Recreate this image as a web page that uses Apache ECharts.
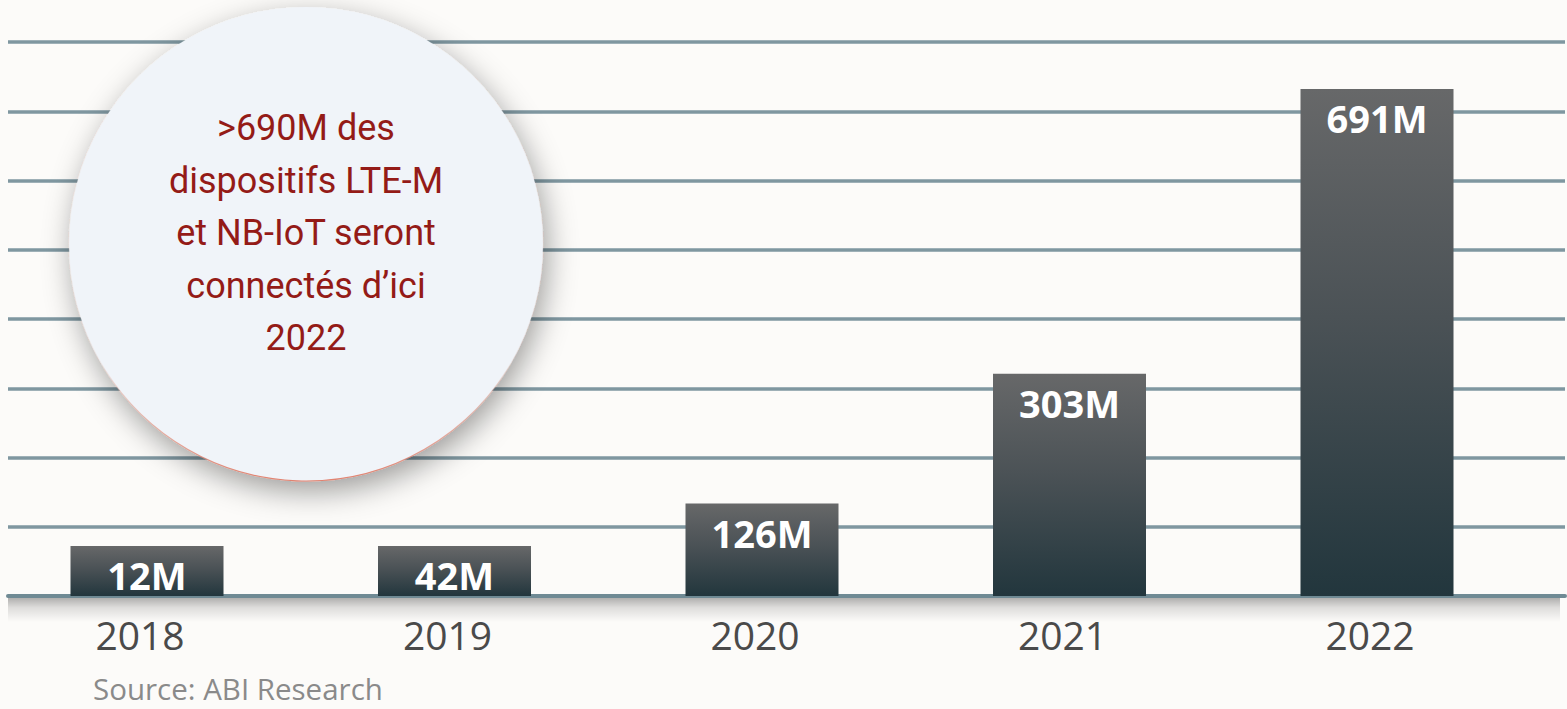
<!DOCTYPE html>
<html>
<head>
<meta charset="utf-8">
<script src="https://cdn.jsdelivr.net/npm/echarts@6/dist/echarts.min.js"></script>
<style>
html,body{margin:0;padding:0;background:#fcfbf9;}
#chart{width:1567px;height:709px;}
</style>
</head>
<body>
<div id="chart"></div>
<script>
// Data
const years = ['2018', '2019', '2020', '2021', '2022'];
const devices = [12, 42, 126, 303, 691]; // millions
const valueLabels = ['12M', '42M', '126M', '303M', '691M'];
const calloutLines = ['>690M des', 'dispositifs LTE-M', 'et NB-IoT seront', 'connectés d’ici', '2022'];
const sourceText = 'Source: ABI Research';

const axisMax = 755;
const axisInterval = axisMax / 8;

const chart = echarts.init(document.getElementById('chart'), null, {renderer: 'svg'});

const barGradient = new echarts.graphic.LinearGradient(0, 0, 0, 1, [
  {offset: 0, color: '#676869'},
  {offset: 0.45, color: '#4b5256'},
  {offset: 1, color: '#22363d'}
]);

chart.setOption({
  backgroundColor: '#fcfbf9',
  animation: false,
  title: {
    text: sourceText,
    left: 93,
    top: 673,
    padding: 0,
    textStyle: {fontFamily: 'Open Sans', fontSize: 29.5, fontWeight: 'normal', color: '#8a8a8a'}
  },
  grid: [
    {left: 147, right: 190, top: 42, bottom: 113},
    {left: 8, right: 2, top: 42, bottom: 113}
  ],
  xAxis: [
    {
      type: 'category', gridIndex: 0, data: years, boundaryGap: false,
      axisLine: {show: false}, axisTick: {show: false},
      axisLabel: {
        fontFamily: 'Open Sans', fontSize: 39, color: '#4a4a4a', margin: 19,
        padding: [0, 14, 0, 0]
      }
    },
    {
      type: 'category', gridIndex: 1, data: years,
      axisTick: {show: false}, axisLabel: {show: false},
      axisLine: {
        show: true,
        lineStyle: {color: '#6f8a94', width: 4}
      }
    }
  ],
  yAxis: [
    {
      type: 'value', gridIndex: 0, min: 0, max: axisMax, interval: axisInterval,
      axisLabel: {show: false}, axisLine: {show: false}, axisTick: {show: false},
      splitLine: {show: false}
    },
    {
      type: 'value', gridIndex: 1, min: 0, max: axisMax, interval: axisInterval,
      axisLabel: {show: false}, axisLine: {show: false}, axisTick: {show: false},
      splitLine: {show: true, lineStyle: {color: '#7f97a0', width: 3.5}}
    }
  ],
  series: [{
    type: 'bar',
    xAxisIndex: 0, yAxisIndex: 0,
    data: devices,
    barWidth: 153,
    barMinHeight: 50,
    z: 3,
    itemStyle: {color: barGradient},
    label: {
      show: true,
      position: 'insideTop',
      distance: 10,
      formatter: (p) => valueLabels[p.dataIndex],
      fontFamily: 'Open Sans', fontWeight: 'bold', fontSize: 38,
      color: '#ffffff'
    }
  }],
  graphic: [
    {
      type: 'rect',
      z: 1,
      silent: true,
      shape: {x: 8, y: 598, width: 1552, height: 24},
      style: {
        fill: new echarts.graphic.LinearGradient(0, 0, 0, 1, [
          {offset: 0, color: 'rgba(0,0,0,0.30)'},
          {offset: 0.4, color: 'rgba(0,0,0,0.12)'},
          {offset: 1, color: 'rgba(0,0,0,0)'}
        ])
      }
    },
    {
      type: 'circle',
      z: 100,
      shape: {cx: 306, cy: 244, r: 237},
      style: {
        fill: '#f0f4f9',
        stroke: new echarts.graphic.LinearGradient(0, 0, 0, 1, [
          {offset: 0, color: 'rgba(230,140,120,0)'},
          {offset: 0.75, color: 'rgba(230,140,120,0.05)'},
          {offset: 1, color: 'rgba(225,120,100,0.9)'}
        ]),
        lineWidth: 1.2,
        shadowColor: 'rgba(0,0,0,0.38)',
        shadowBlur: 30,
        shadowOffsetX: 4,
        shadowOffsetY: 10
      }
    },
    {
      type: 'text',
      z: 101,
      style: {
        x: 306, y: 233,
        text: calloutLines.join('\n'),
        align: 'center', verticalAlign: 'middle',
        fontFamily: 'Roboto', fontSize: 36, lineHeight: 52.5,
        fill: '#941b17'
      }
    }
  ]
});
</script>
</body>
</html>
